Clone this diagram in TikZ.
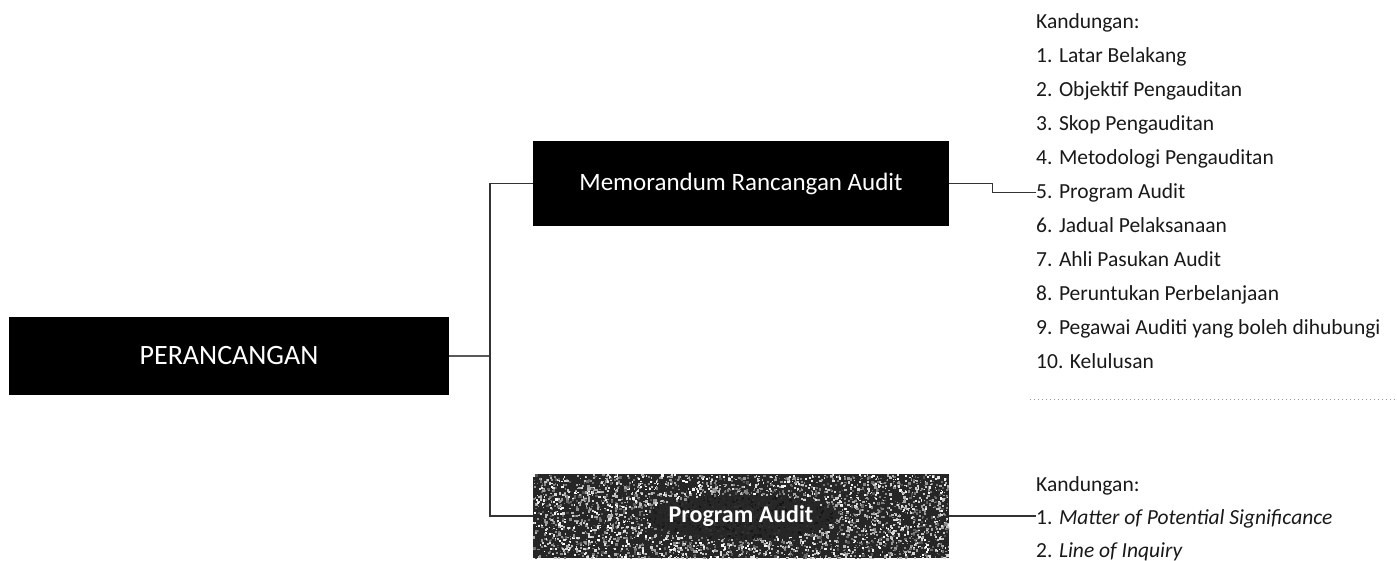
\documentclass[tikz,border=0pt]{standalone}
\usepackage{fontspec}
\setmainfont{Carlito}
\begin{document}
\begin{tikzpicture}[x=1pt,y=-1pt,
  darkbox/.style={fill=black,draw=none,inner sep=0pt,text=white},
  item/.style={anchor=base west,inner sep=0pt,text=black!90,font=\fontsize{21.5}{26}\selectfont},
  conn/.style={draw=black!80,line width=1.2pt},
  faint/.style={draw=black!40,line width=0.8pt,dash pattern=on 1pt off 3pt}]
\useasboundingbox (0,0) rectangle (1397,560);

% main boxes
\node[darkbox,minimum width=440pt,minimum height=78pt,font=\fontsize{28}{32}\selectfont] (per) at (229,356) {PERANCANGAN};
\node[darkbox,minimum width=416pt,minimum height=85pt,font=\fontsize{25}{29}\selectfont] (memo) at (741,183.5) {Memorandum Rancangan Audit};
\node[fill=black!85,draw=none,minimum width=416pt,minimum height=84pt,inner sep=0pt] (prog) at (741,516) {};
\begin{scope}
\clip (prog.north west) rectangle (prog.south east);
\pgfmathsetseed{11}
\foreach \i in {1,...,3600} {
  \pgfmathsetmacro\rx{533+416*rnd}
  \pgfmathsetmacro\ry{474+84*rnd}
  \pgfmathsetmacro\inside{((\rx-741)/95)^2+((\ry-516)/22)^2<1 ? 1 : 0}
  \pgfmathsetmacro\gv{\inside>0.5 ? 8+12*rnd : 30+70*rnd}
  \pgfmathsetmacro\sz{1.2+1.4*rnd}
  \fill[white!\gv!black] (\rx,\ry) rectangle ++(\sz,\sz);
}
\end{scope}
\node[text=white,font=\bfseries\fontsize{24}{28}\selectfont,inner sep=0pt] (progtxt) at (prog.center) {Program Audit};

% upper list
\node[item] (k1) at (1036,28) {Kandungan:};
\node[item] (i1) at (1036,62) {1. Latar Belakang};
\node[item] (i2) at (1036,96) {2. Objektif Pengauditan};
\node[item] (i3) at (1036,130) {3. Skop Pengauditan};
\node[item] (i4) at (1036,164) {4. Metodologi Pengauditan};
\node[item] (i5) at (1036,198) {5. Program Audit};
\node[item] (i6) at (1036,232) {6. Jadual Pelaksanaan};
\node[item] (i7) at (1036,266) {7. Ahli Pasukan Audit};
\node[item] (i8) at (1036,300) {8. Peruntukan Perbelanjaan};
\node[item] (i9) at (1036,334) {9. Pegawai Auditi yang boleh dihubungi};
\node[item] (i10) at (1036,368) {10. Kelulusan};

% lower list
\node[item] (k2) at (1036,491) {Kandungan:};
\node[item] (p1) at (1036,524) {1. \textit{Matter of Potential Significance}};
\node[item] (p2) at (1036,557) {2. \textit{Line of Inquiry}};

% connectors
\coordinate (j) at (490,356);
\draw[conn,draw=black!65] (per.east) -- (j);
\draw[conn] (memo.west) -| (j) |- (prog.west);
\draw[conn] (memo.east) -- ++(43,0) |- (i5.west);
\draw[conn] (prog.east) -- (prog.east -| p1.west);

% faint dotted trace
\coordinate (d1) at (1030,399);
\coordinate (d2) at (1397,399);
\draw[faint] (d1) -- (d2);
\end{tikzpicture}
\end{document}
